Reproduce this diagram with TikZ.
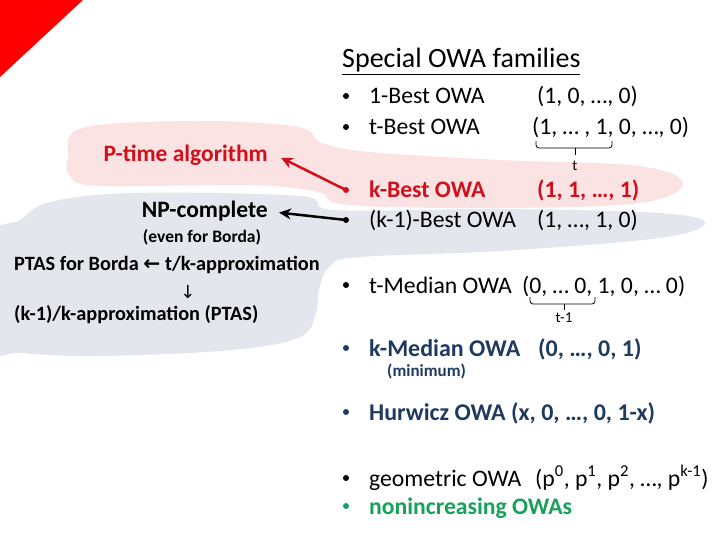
\documentclass[tikz,border=0pt]{standalone}
\usepackage{fontspec}
\setmainfont{Carlito}
\newfontfamily\arrowfont{DejaVu Sans}
\usetikzlibrary{arrows.meta}
\definecolor{cred}{HTML}{D0101B}
\definecolor{lightred}{HTML}{FCE3E3}
\definecolor{lightgrey}{HTML}{E3E6EC}
\definecolor{cnavy}{HTML}{1F3A5F}
\definecolor{cgreen}{HTML}{16A15A}

\begin{document}
\begin{tikzpicture}[x=1pt, y=-1pt,
  txt/.style={anchor=base west, inner sep=0pt, font=\fontsize{23.7}{28}\selectfont},
  lbl/.style={inner sep=0pt, font=\bfseries\fontsize{23.5}{28}\selectfont},
  small/.style={inner sep=0pt, font=\bfseries\fontsize{20.3}{24}\selectfont},
  dot/.style={circle, fill, inner sep=0pt, minimum size=6pt},
  brc/.style={line width=0.8pt, rounded corners=3pt},
  brclbl/.style={inner sep=0pt, font=\fontsize{15}{18}\selectfont}]
  \useasboundingbox (0,0) rectangle (720,540);
  \fill[red] (0,0) -- (83,0) -- (0,77) -- cycle;

  % the two regions
  \fill[lightred] plot[smooth cycle, tension=0.6] coordinates {(68,158) (82,128) (200,121) (298,127) (322,143) (370,152) (500,160) (640,166) (683,184) (640,203) (500,208) (348,205) (318,192) (250,185) (100,186) (70,176)};
  \fill[lightgrey] plot[smooth cycle, tension=0.6] coordinates {(-10,240) (20,220) (50,202) (133,193) (300,196) (335,210) (500,209) (660,213) (705,223) (660,238) (500,251) (360,257) (330,266) (319,290) (316,313) (300,337) (233,350) (100,356) (20,353) (-10,347)};

  % title and list
  \node[txt, font=\fontsize{28}{32}\selectfont] (title) at (342,68) {\underline{Special OWA families}};
  \node[dot] (b1best) at (346,96) {};
  \node[txt] (n1best) at (369,104) {1-Best OWA};
  \node[txt] (v1best) at (537,104) {(1, 0, …, 0)};
  \node[dot] (btbest) at (346,127) {};
  \node[txt] (ntbest) at (369,135) {t-Best OWA};
  \node[txt] (vtbest) at (532,135) {(1, … , 1, 0, …, 0)};
  \draw[brc] (536,141) |- (575,148) -| (612,141);
  \draw[brc] (575,148) -- (575,155);
  \node[brclbl] (ltbest) at (575,166) {t};

  \node[dot, cred] (bkbest) at (346,190) {};
  \node[txt, cred, font=\bfseries\fontsize{23.7}{28}\selectfont] (nkbest) at (369,198) {k-Best OWA};
  \node[txt, cred, font=\bfseries\fontsize{23.7}{28}\selectfont] (vkbest) at (537,198) {(1, 1, …, 1)};
  \node[dot] (bkmbest) at (346,220) {};
  \node[txt] (nkmbest) at (369,228) {(k-1)-Best OWA};
  \node[txt] (vkmbest) at (537,228) {(1, …, 1, 0)};

  \node[dot] (btmed) at (346,285) {};
  \node[txt] (ntmed) at (369,293) {t-Median OWA};
  \node[txt] (vtmed) at (522,293) {(0, … 0, 1, 0, … 0)};
  \draw[brc] (530,297) |- (564,304) -| (595,297);
  \draw[brc] (564,304) -- (564,310);
  \node[brclbl] (ltmed) at (564,318) {t-1};

  \node[dot, cnavy] (bkmed) at (346,348) {};
  \node[txt, cnavy, font=\bfseries\fontsize{24}{28}\selectfont] (nkmed) at (369,356) {k-Median OWA};
  \node[txt, cnavy, font=\bfseries\fontsize{24}{28}\selectfont] (vkmed) at (538,356) {(0, …, 0, 1)};
  \node[txt, cnavy, font=\bfseries\fontsize{17}{20}\selectfont] (minim) at (387,376) {(minimum)};

  \node[dot, cnavy] (bhur) at (346,412) {};
  \node[txt, cnavy, font=\bfseries\fontsize{24}{28}\selectfont] (nhur) at (369,420) {Hurwicz OWA (x, 0, …, 0, 1-x)};

  \node[dot] (bgeo) at (346,478) {};
  \node[txt] (ngeo) at (369,486) {geometric OWA};
  \node[txt] (vgeo) at (535,486) {(p\textsuperscript{0}, p\textsuperscript{1}, p\textsuperscript{2}, …, p\textsuperscript{k-1})};
  \node[dot, cgreen] (bnon) at (346,506) {};
  \node[txt, cgreen, font=\bfseries\fontsize{23.7}{28}\selectfont] (nnon) at (369,514) {nonincreasing OWAs};

  % complexity results
  \node[lbl, cred, anchor=base east] (ptime) at (268,162) {P-time algorithm};
  \node[lbl, anchor=base east] (npc) at (268,218) {NP-complete};
  \node[inner sep=0pt, anchor=base, font=\bfseries\fontsize{17.5}{20}\selectfont] (borda) at (202,242) {(even for Borda)};
  \node[small, anchor=base west] (ptas) at (14,270) {PTAS for Borda {\arrowfont ←} t/k-approximation};
  \node[inner sep=0pt, font=\arrowfont\fontsize{18}{20}\selectfont] (down) at (188,292) {↓};
  \node[small, anchor=base west] (kapx) at (14,320) {(k-1)/k-approximation (PTAS)};

  \draw[cred, line width=2.5pt, -{Stealth[length=12pt, width=11pt]}] (bkbest.center) -- ([xshift=13pt, yshift=-2pt]ptime.east);
  \draw[line width=2.5pt, -{Stealth[length=12pt, width=11pt]}] (bkmbest.center) -- ([xshift=11pt, yshift=-1pt]npc.east);
\end{tikzpicture}
\end{document}
